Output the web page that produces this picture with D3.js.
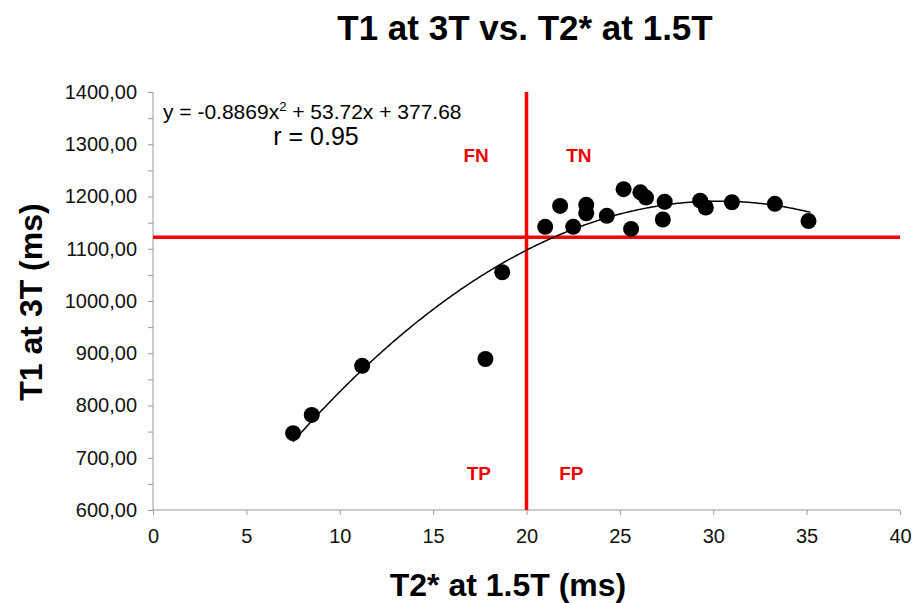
<!DOCTYPE html>
<html lang="en">
<head>
    <meta charset="UTF-8" />
    <title>T1 at 3T vs. T2* at 1.5T</title>
    <script src="https://d3js.org/d3.v7.min.js"></script>
    <style>
        body {
            margin: 0;
            background: #fff;
            font-family: "Liberation Sans", Arial, sans-serif;
        }
        svg text { fill: #000; }
        .axis path, .axis line { stroke: #9a9a9a; }
        .axis text { font-size: 20px; font-family: "Liberation Sans", Arial, sans-serif; fill: #111; }
    </style>
</head>
<body>
<svg id="chart" width="912" height="603"></svg>

<script>
    // T2* at 1.5T (ms) and T1 at 3T (ms)
    const t2star = [7.5, 8.5, 11.2, 17.8, 18.7, 21.0, 21.8, 22.5, 23.2, 23.2, 24.3,
                    25.2, 25.6, 26.1, 26.4, 27.4, 27.3, 29.3, 29.6, 31.0, 33.3, 35.1];
    const t1 = [747, 782, 876, 889, 1055, 1142, 1182, 1142, 1184, 1168, 1163,
                1214, 1138, 1208, 1198, 1190, 1156, 1192, 1179, 1189, 1186, 1153];

    // quadratic fit coefficients
    const fitCoef = [-0.8869, 53.72, 377.68];
    const fitRange = [7.5, 35.2];

    const xTicks = [0, 5, 10, 15, 20, 25, 30, 35, 40];
    const yTicks = [600, 700, 800, 900, 1000, 1100, 1200, 1300, 1400];

    // cut-offs
    const cutX = 20;
    const cutY = 1122;

    const quadrants = [
        { label: "FN", x: 17.3, y: 1266 },
        { label: "TN", x: 22.8, y: 1266 },
        { label: "TP", x: 17.45, y: 657 },
        { label: "FP", x: 22.4, y: 657 }
    ];

    const svg = d3.select("#chart");
    const margin = { left: 153, top: 92 };

    const x = d3.scaleLinear().domain([0, 40]).range([0, 747]);
    const y = d3.scaleLinear().domain([600, 1400]).range([418, 0]);

    const g = svg.append("g").attr("transform", `translate(${margin.left},${margin.top})`);

    // minor y ticks
    g.append("g")
        .attr("class", "axis")
        .call(d3.axisLeft(y).tickValues(d3.range(650, 1400, 100)).tickSize(5).tickFormat(""))
        .select(".domain").remove();

    const yAxis = g.append("g")
        .attr("class", "axis")
        .call(d3.axisLeft(y).tickValues(yTicks).tickSize(5).tickPadding(11)
            .tickFormat(d => d3.format(".2f")(d).replace(".", ",")));
    yAxis.select(".domain").attr("d", "M0,0V418");

    const xAxis = g.append("g")
        .attr("class", "axis")
        .attr("transform", "translate(0,418)")
        .call(d3.axisBottom(x).tickValues(xTicks).tickSize(5).tickPadding(14));
    xAxis.select(".domain").attr("d", "M0,0H747");

    // cut-off lines
    g.append("line")
        .attr("x1", x(0)).attr("x2", x(40))
        .attr("y1", y(cutY)).attr("y2", y(cutY))
        .attr("stroke", "#f00").attr("stroke-width", 3.5);
    g.append("line")
        .attr("x1", x(cutX)).attr("x2", x(cutX))
        .attr("y1", y(1400)).attr("y2", y(600))
        .attr("stroke", "#f00").attr("stroke-width", 3.5);

    // fitted curve
    const curvePts = d3.range(fitRange[0], fitRange[1] + 0.01, 0.1)
        .map(v => [v, fitCoef[0] * v * v + fitCoef[1] * v + fitCoef[2]]);
    g.append("path")
        .datum(curvePts)
        .attr("fill", "none")
        .attr("stroke", "#000")
        .attr("stroke-width", 1.5)
        .attr("d", d3.line().x(d => x(d[0])).y(d => y(d[1])));

    // points
    g.selectAll("circle.pt")
        .data(t2star.map((v, i) => [v, t1[i]]))
        .enter()
        .append("circle")
        .attr("class", "pt")
        .attr("cx", d => x(d[0]))
        .attr("cy", d => y(d[1]))
        .attr("r", 8)
        .attr("fill", "#000");

    // quadrant labels
    g.selectAll("text.quad")
        .data(quadrants)
        .enter()
        .append("text")
        .attr("class", "quad")
        .attr("x", d => x(d.x))
        .attr("y", d => y(d.y))
        .attr("text-anchor", "middle")
        .attr("font-size", "19px")
        .attr("font-weight", "bold")
        .style("fill", "#e00")
        .text(d => d.label);

    // equation
    const eq = svg.append("text")
        .attr("x", 163).attr("y", 119)
        .attr("font-size", "21px");
    eq.append("tspan").text("y = -0.8869x");
    eq.append("tspan").attr("font-size", "13px").attr("dy", -8).text("2");
    eq.append("tspan").attr("dy", 8).text(" + 53.72x + 377.68");

    svg.append("text")
        .attr("x", 316).attr("y", 145)
        .attr("text-anchor", "middle")
        .attr("font-size", "25px")
        .text("r = 0.95");

    // titles
    svg.append("text")
        .attr("x", 525).attr("y", 40)
        .attr("text-anchor", "middle")
        .attr("font-size", "35px")
        .attr("font-weight", "bold")
        .text("T1 at 3T vs. T2* at 1.5T");

    svg.append("text")
        .attr("x", 508).attr("y", 596)
        .attr("text-anchor", "middle")
        .attr("font-size", "32px")
        .attr("font-weight", "bold")
        .text("T2* at 1.5T (ms)");

    svg.append("text")
        .attr("transform", "translate(42,302) rotate(-90)")
        .attr("text-anchor", "middle")
        .attr("font-size", "32px")
        .attr("font-weight", "bold")
        .text("T1 at 3T (ms)");
</script>
</body>
</html>
